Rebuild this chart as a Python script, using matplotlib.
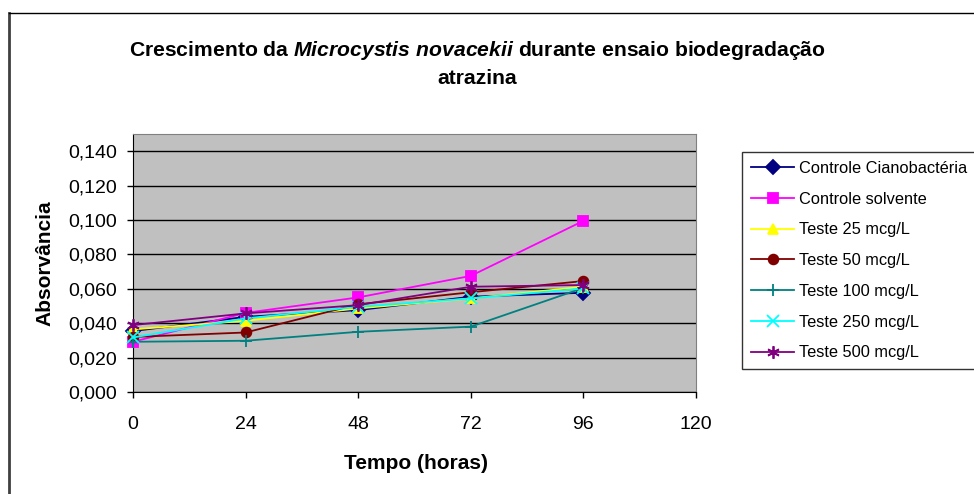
import matplotlib
matplotlib.use("Agg")
from matplotlib import pyplot as plt
from matplotlib.lines import Line2D

# dados
tempo = [0, 24, 48, 72, 96]
controle_ciano = [0.0354, 0.0437, 0.0476, 0.0554, 0.0577]
controle_solvente = [0.0292, 0.0460, 0.0550, 0.0675, 0.0995]
teste_25 = [0.0364, 0.0414, 0.0486, 0.0544, 0.0612]
teste_50 = [0.0320, 0.0346, 0.0510, 0.0580, 0.0645]
teste_100 = [0.0292, 0.0298, 0.0350, 0.0380, 0.0605]
teste_250 = [0.0317, 0.0428, 0.0495, 0.0544, 0.0602]
teste_500 = [0.0389, 0.0457, 0.0505, 0.0612, 0.0622]

nomes = ["Controle Cianobactéria", "Controle solvente", "Teste 25 mcg/L",
         "Teste 50 mcg/L", "Teste 100 mcg/L", "Teste 250 mcg/L", "Teste 500 mcg/L"]
series = [controle_ciano, controle_solvente, teste_25, teste_50,
          teste_100, teste_250, teste_500]
cores = ["#000080", "#FF00FF", "#FFFF00", "#800000", "#008080", "#00FFFF", "#800080"]
marcadores = ["D", "s", "^", "o", "+", "x", (6, 2, 0)]

yticks = [0.0, 0.02, 0.04, 0.06, 0.08, 0.10, 0.12, 0.14]
xticks = [0, 24, 48, 72, 96, 120]

plt.rcParams["font.family"] = ["Liberation Sans", "DejaVu Sans"]
plt.rcParams["mathtext.fontset"] = "custom"
plt.rcParams["mathtext.it"] = "Liberation Sans:italic:bold"
plt.rcParams["mathtext.rm"] = "Liberation Sans:bold"

W, H = 974, 494
fig = plt.figure(figsize=(W / 100, H / 100), dpi=100)
fig.patch.set_facecolor("white")

# moldura externa (so esquerda e topo aparecem)
fig.add_artist(Line2D([9 / W, 9 / W], [0, 1 - 13 / H], color="#404040", lw=2.0))
fig.add_artist(Line2D([9 / W, 1], [1 - 13 / H, 1 - 13 / H], color="black", lw=1.0))

ax = fig.add_axes([133 / W, 1 - 392 / H, (696 - 133) / W, (392 - 134) / H])
ax.set_facecolor("#C0C0C0")

for i in range(len(series)):
    ms = 7 if marcadores[i] in ["D", "s", "o", "^"] else 9
    ax.plot(tempo, series[i], color=cores[i], marker=marcadores[i], markersize=ms,
            markeredgewidth=1.3, lw=1.3, label=nomes[i], zorder=3 + i, clip_on=False)

ax.set_xlim(0, 120)
ax.set_ylim(0, 0.15)
ax.set_xticks(xticks)
ax.set_yticks(yticks)
ax.set_yticklabels(["{:.3f}".format(v).replace(".", ",") for v in yticks])
ax.yaxis.grid(True, color="black", lw=1.0)
ax.set_axisbelow(True)
ax.tick_params(direction="out", length=4.3, width=1, labelsize=14)
ax.tick_params(axis="x", pad=13)
ax.tick_params(axis="y", pad=7)
for s in ["top", "right"]:
    ax.spines[s].set_color("#808080")
for s in ["left", "bottom"]:
    ax.spines[s].set_color("black")

fig.text(45 / W, 1 - 263 / H, "Absorvância", rotation=90, ha="center", va="center",
         fontsize=15, fontweight="bold")
fig.text(416 / W, 1 - 463 / H, "Tempo (horas)", ha="center", va="center",
         fontsize=15, fontweight="bold")

fig.text(477 / W, 1 - 51 / H,
         r"Crescimento da $Microcystis\ novacekii$ durante ensaio biodegradação",
         ha="center", va="center", fontsize=15.2, fontweight="bold")
fig.text(477 / W, 1 - 79 / H, "atrazina", ha="center", va="center",
         fontsize=15.2, fontweight="bold")

leg = fig.legend(loc="upper left", bbox_to_anchor=(742 / W, 1 - 152 / H),
                 fontsize=11.8, frameon=True, fancybox=False, handlelength=2.65,
                 handletextpad=0.3, labelspacing=0.96, borderpad=0.55,
                 borderaxespad=0)
leg.get_frame().set_edgecolor("black")
leg.get_frame().set_linewidth(1.0)

fig.savefig("out.png", dpi=100)
